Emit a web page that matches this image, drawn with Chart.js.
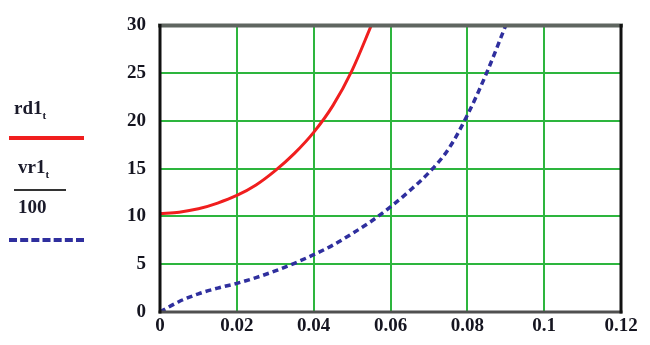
<!DOCTYPE html>
<html>
<head>
<meta charset="utf-8">
<script src="https://cdn.jsdelivr.net/npm/chart.js@4.4.1/dist/chart.umd.min.js"></script>
<style>
  html, body { margin: 0; padding: 0; background: #fff; }
  #wrap { position: relative; width: 650px; height: 345px; }
  #legend { position: absolute; left: 0; top: 0; width: 100px; height: 345px;
    font-family: 'Liberation Serif', serif; font-weight: bold; font-size: 19px; color: #1a1a2a; }
  #legend .lbl { position: absolute; }
  #legend sub { font-size: 11px; }
  .ln { position: absolute; height: 0; }
</style>
</head>
<body>
<div id="wrap">
  <canvas id="chart" width="650" height="345"></canvas>
  <div id="legend">
    <div class="lbl" style="left:14px; top:97px;">rd1<sub>t</sub></div>
    <div class="ln" style="left:9px; top:136px; width:75px; border-top:4px solid #f01e1e;"></div>
    <div class="lbl" style="left:18px; top:156px;">vr1<sub>t</sub></div>
    <div class="ln" style="left:14px; top:189px; width:52px; border-top:2px solid #333;"></div>
    <div class="lbl" style="left:18px; top:196px;">100</div>
    <div class="ln" style="left:9px; top:238px; width:75px; border-top:4px dashed #2f2f9e;"></div>
  </div>
</div>
<script>
// values
const redX = [0, 0.005, 0.01, 0.015, 0.02, 0.025, 0.03, 0.035, 0.04, 0.045, 0.05, 0.055];
const redY = [10.3, 10.45, 10.8, 11.4, 12.2, 13.3, 14.8, 16.6, 18.8, 21.6, 25.3, 30];
const blueX = [0, 0.005, 0.01, 0.015, 0.02, 0.025, 0.03, 0.035, 0.04, 0.045, 0.05, 0.055, 0.06, 0.065, 0.07, 0.075, 0.08, 0.085, 0.09];
const blueY = [0, 1.1, 1.9, 2.5, 3.0, 3.6, 4.3, 5.1, 6.0, 7.0, 8.2, 9.5, 11.0, 12.7, 14.6, 17.0, 20.6, 25.0, 30];
const xTicks = [0, 0.02, 0.04, 0.06, 0.08, 0.1, 0.12];
const yTicks = [0, 5, 10, 15, 20, 25, 30];

const toPoints = (xs, ys) => xs.map((x, i) => ({ x: x, y: ys[i] }));

// frame around the plot area, drawn over the curves
const framePlugin = {
  id: 'frame',
  afterDatasetsDraw(chart) {
    const { ctx, chartArea: a } = chart;
    ctx.save();
    ctx.lineCap = 'square';
    ctx.strokeStyle = '#5f6660';
    ctx.lineWidth = 4;
    ctx.beginPath(); ctx.moveTo(a.left, a.top); ctx.lineTo(a.right, a.top); ctx.stroke();
    ctx.strokeStyle = '#505050';
    ctx.lineWidth = 3;
    ctx.beginPath(); ctx.moveTo(a.left, a.bottom); ctx.lineTo(a.right, a.bottom); ctx.stroke();
    ctx.strokeStyle = '#111';
    ctx.lineWidth = 3;
    ctx.beginPath(); ctx.moveTo(a.left, a.top); ctx.lineTo(a.left, a.bottom); ctx.stroke();
    ctx.beginPath(); ctx.moveTo(a.right, a.top); ctx.lineTo(a.right, a.bottom); ctx.stroke();
    ctx.restore();
  }
};

const tickFont = { family: 'Liberation Serif', weight: 'bold', size: 19 };

new Chart(document.getElementById('chart'), {
  type: 'line',
  data: {
    datasets: [{
      data: toPoints(redX, redY),
      borderColor: '#f01e1e',
      borderWidth: 3,
      pointRadius: 0,
      cubicInterpolationMode: 'monotone',
      fill: false
    }, {
      data: toPoints(blueX, blueY),
      borderColor: '#2f2f9e',
      borderWidth: 3.5,
      borderDash: [6, 4],
      pointRadius: 0,
      cubicInterpolationMode: 'monotone',
      fill: false
    }]
  },
  options: {
    responsive: false,
    animation: false,
    layout: { padding: { top: 15, right: 29, left: 0, bottom: 0 } },
    plugins: { legend: { display: false }, tooltip: { enabled: false } },
    scales: {
      x: {
        type: 'linear',
        min: 0,
        max: 0.12,
        afterBuildTicks: s => { s.ticks = xTicks.map(v => ({ value: v })); },
        afterFit: s => { s.height = 33; },
        grid: { color: '#2db53e', lineWidth: 2, drawTicks: false },
        border: { display: false },
        ticks: { color: '#151520', font: tickFont, padding: 3, maxRotation: 0,
          callback: v => String(v) }
      },
      y: {
        min: 0,
        max: 30,
        afterBuildTicks: s => { s.ticks = yTicks.map(v => ({ value: v })); },
        afterFit: s => { s.width = 160; },
        grid: { color: '#2db53e', lineWidth: 2, drawTicks: false },
        border: { display: false },
        ticks: { color: '#151520', font: tickFont, padding: 14 }
      }
    }
  },
  plugins: [framePlugin]
});
</script>
</body>
</html>
